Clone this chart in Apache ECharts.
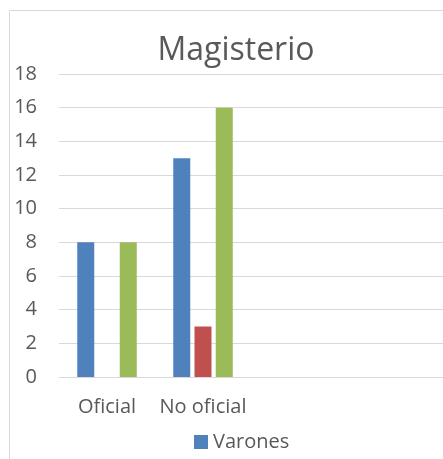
<!DOCTYPE html>
<html><head><meta charset="utf-8">
<script src="https://cdn.jsdelivr.net/npm/echarts@6/dist/echarts.min.js"></script>
<style>html,body{margin:0;padding:0;background:#fff}#c{width:443px;height:459px}</style>
</head><body><div id="c"></div>
<script>
const categories = ["Oficial", "No oficial", "", ""];
const varones = [8, 13, null, null];
const serie2 = [0, 3, null, null];
const serie3 = [8, 16, null, null];
const yTicks = {min: 0, max: 18, interval: 2};

const chart = echarts.init(document.getElementById('c'));
const font = '"Open Sans", sans-serif';
chart.setOption({
  animation: false,
  backgroundColor: '#fff',
  title: {text: 'Magisterio', left: 231, textAlign: 'center', top: 30,
    textStyle: {fontFamily: font, fontSize: 32, fontWeight: 'normal', color: '#595959'}},
  graphic: [{type: 'polyline', shape: {points: [[9.5, 459], [9.5, 10.5], [443, 10.5]]},
    style: {stroke: '#d9d9d9', lineWidth: 1, fill: null}}],
  legend: {data: ['Varones'], left: 189, top: 427, itemWidth: 14, itemHeight: 14, itemGap: 5,
    icon: 'rect', textStyle: {fontFamily: font, fontSize: 20, color: '#595959'}},
  grid: {left: 59, right: -4, top: 74, bottom: 82, containLabel: false},
  xAxis: {type: 'category', data: categories,
    axisLine: {lineStyle: {color: '#d9d9d9'}}, axisTick: {show: false},
    axisLabel: {interval: 0, fontFamily: font, fontSize: 20, color: '#595959', margin: 20}},
  yAxis: {type: 'value', min: yTicks.min, max: yTicks.max, interval: yTicks.interval,
    axisLine: {show: false}, axisTick: {show: false},
    splitLine: {lineStyle: {color: '#d9d9d9'}},
    axisLabel: {fontFamily: font, fontSize: 20, color: '#595959', margin: 22}},
  series: [
    {name: 'Varones', type: 'bar', data: varones, barWidth: 17, barGap: '25%', itemStyle: {color: '#4f81bd'}},
    {name: 'Serie 2', type: 'bar', data: serie2, barWidth: 17, barGap: '25%', itemStyle: {color: '#c0504d'}},
    {name: 'Serie 3', type: 'bar', data: serie3, barWidth: 17, barGap: '25%', itemStyle: {color: '#9bbb59'}}
  ]
});
</script></body></html>
